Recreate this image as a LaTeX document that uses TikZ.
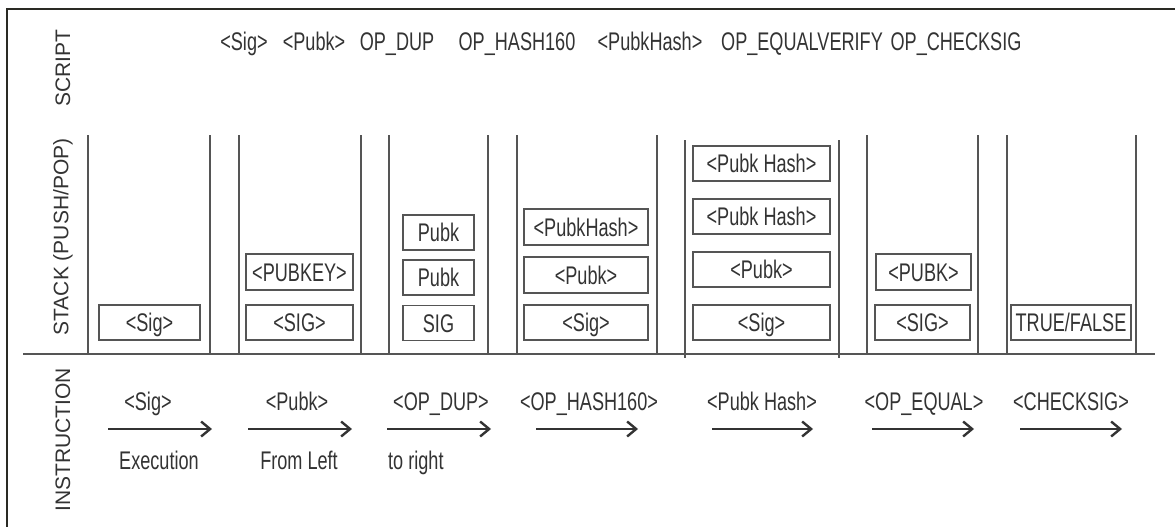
\documentclass[tikz,border=0pt]{standalone}
\usepackage{fontspec}
\setmainfont{Liberation Sans}[FakeStretch=0.71]
\newfontfamily\labfont{Liberation Sans}
\usetikzlibrary{arrows.meta}
\definecolor{ink}{HTML}{333333}
\definecolor{rulec}{HTML}{555555}
\definecolor{framec}{HTML}{2A2A24}
\begin{document}
\begin{tikzpicture}[x=1pt,y=-1pt,
  txt/.style={text=ink,inner sep=0pt,text height=18.3pt,text depth=0pt,font=\fontsize{25.5}{27}\selectfont},
  box/.style={txt,draw=rulec,line width=1.3pt,minimum height=35pt},
  side/.style={text=ink,inner sep=0pt,rotate=90,font=\labfont\fontsize{21}{23}\selectfont},
  col/.style={draw=rulec,line width=1.2pt},
  instr/.style={draw=ink,line width=1.8pt,-{Straight Barb[length=9pt,width=15pt,line width=2.4pt]}}]
\useasboundingbox (0,0) rectangle (1175,527);
% frame
\draw[framec,line width=2.5pt] (7,527) -- (7,9) -- (1175,9);
% side labels
\node[side] (lscript) at (63,68) {SCRIPT};
\node[side] (lstack) at (63,237) {STACK (PUSH/POP)};
\node[side] (linstr) at (63,440) {INSTRUCTION};
% script tokens
\node[txt] (s1) at (244,41) {<Sig>};
\node[txt] (s2) at (314,41) {<Pubk>};
\node[txt] (s3) at (397,41) {OP\_DUP};
\node[txt] (s4) at (517,41) {OP\_HASH160};
\node[txt] (s5) at (650,41) {<PubkHash>};
\node[txt] (s6) at (802,41) {OP\_EQUALVERIFY};
\node[txt] (s7) at (956,41) {OP\_CHECKSIG};
% column walls
\foreach \x in {88,210,239,361,389,488,517,657,867,978,1007,1136}
  \draw[col] (\x,135) -- (\x,354);
\draw[col] (685,140) -- (685,358);
\draw[col] (839,140) -- (839,358);
\draw[col] (23,354) -- (1155,354);
% stack boxes
\node[box,minimum width=101pt] (c1a) at (149.5,322.5) {<Sig>};
\node[box,minimum width=107pt] (c2a) at (299.5,322.5) {<SIG>};
\node[box,minimum width=107pt,minimum height=36pt] (c2b) at (299.5,272) {<PUBKEY>};
\node[box,minimum width=71pt] (c3a) at (438.5,323) {SIG};
\node[box,minimum width=71pt] (c3b) at (438.5,277.5) {Pubk};
\node[box,minimum width=71pt] (c3c) at (438.5,232.5) {Pubk};
\node[box,minimum width=124pt] (c4a) at (586,322.5) {<Sig>};
\node[box,minimum width=124pt,minimum height=36pt] (c4b) at (586,275) {<Pubk>};
\node[box,minimum width=124pt,minimum height=36pt] (c4c) at (586,227) {<PubkHash>};
\node[box,minimum width=137pt] (c5a) at (761.5,322.5) {<Sig>};
\node[box,minimum width=137pt] (c5b) at (761.5,269.5) {<Pubk>};
\node[box,minimum width=137pt] (c5c) at (761.5,216.5) {<Pubk Hash>};
\node[box,minimum width=137pt] (c5d) at (761.5,163.5) {<Pubk Hash>};
\node[box,minimum width=95pt] (c6a) at (922.5,322.5) {<SIG>};
\node[box,minimum width=95pt,minimum height=36pt] (c6b) at (923.5,272) {<PUBK>};
\node[box,minimum width=120pt] (c7a) at (1071,322.5) {TRUE/FALSE};
% instructions
\node[txt] (i1) at (148,401) {<Sig>};
\node[txt] (i2) at (297,401) {<Pubk>};
\node[txt] (i3) at (441,401) {<OP\_DUP>};
\node[txt] (i4) at (589,401) {<OP\_HASH160>};
\node[txt] (i5) at (762,401) {<Pubk Hash>};
\node[txt] (i6) at (924,401) {<OP\_EQUAL>};
\node[txt] (i7) at (1071,401) {<CHECKSIG>};
\node[txt] (e1) at (159,460) {Execution};
\node[txt] (e2) at (299,460) {From Left};
\node[txt,anchor=west] (e3) at (388,460) {to right};
\coordinate (a1s) at (108,429); \coordinate (a1e) at (212,429);
\coordinate (a2s) at (248,429); \coordinate (a2e) at (352,429);
\coordinate (a3s) at (387,429); \coordinate (a3e) at (491,429);
\coordinate (a4s) at (536,429); \coordinate (a4e) at (638,429);
\coordinate (a5s) at (712,429); \coordinate (a5e) at (813,429);
\coordinate (a6s) at (872,429); \coordinate (a6e) at (974,429);
\coordinate (a7s) at (1020,429); \coordinate (a7e) at (1122,429);
\foreach \i in {1,...,7} \draw[instr] (a\i s) -- (a\i e);
\end{tikzpicture}
\end{document}
